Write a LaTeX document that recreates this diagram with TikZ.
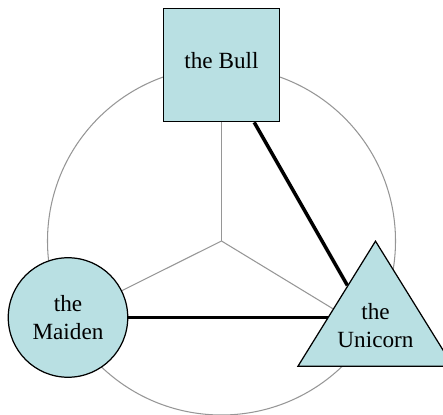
\documentclass[tikz,border=0pt]{standalone}
\usepackage{fontspec}
\setmainfont{Liberation Serif}
\usetikzlibrary {shapes.geometric}
\usetikzlibrary {backgrounds}
\definecolor{cellfill}{RGB}{185,224,227}
\definecolor{wheelgray}{RGB}{150,150,150}

\begin{document}
\begin{tikzpicture}[font=\fontsize{13.2}{15.9}\selectfont]

            %\draw [help lines] (0,0) grid (9,9);
            \useasboundingbox (0,0) rectangle (8.86,8.28);

            \path   (4.43,3.46) coordinate (hub)
                    (4.43,6.98) node (bull) [rectangle,draw,fill=cellfill,line width=0.7pt,minimum width=2.32cm,minimum height=2.27cm,text depth=5pt] {the Bull}
                    (1.36,1.93) node (maiden) [circle,draw,fill=cellfill,line width=0.7pt,minimum size=2.39cm,align=center,inner sep=0pt] {the\\Maiden}
                    (7.51,3.48) node (unicorn) [isosceles triangle,isosceles triangle apex angle=63.5,isosceles triangle stretches,shape border rotate=90,anchor=apex,draw,fill=cellfill,line width=0.7pt,minimum width=3.1cm,minimum height=2.5cm,align=center,inner sep=0pt,text depth=10pt] {the\\Unicorn};

            \begin{pgfonlayer}{background}
            \draw[wheelgray,line width=0.6pt] (node cs: name=hub) circle (3.48);

            \draw[wheelgray,line width=0.6pt] (node cs: name=hub) -- (node cs: name=bull);
            \draw[wheelgray,line width=0.6pt] (node cs: name=hub) -- (node cs: name=maiden);
            \draw[wheelgray,line width=0.6pt] (node cs: name=hub) -- (node cs: name=unicorn);

            \draw[line width=2pt] (node cs: name=bull) -- (node cs: name=unicorn);
            \draw[line width=2pt] (node cs: name=maiden) -- (maiden -| unicorn);
            \end{pgfonlayer}

\end{tikzpicture}
\end{document}
